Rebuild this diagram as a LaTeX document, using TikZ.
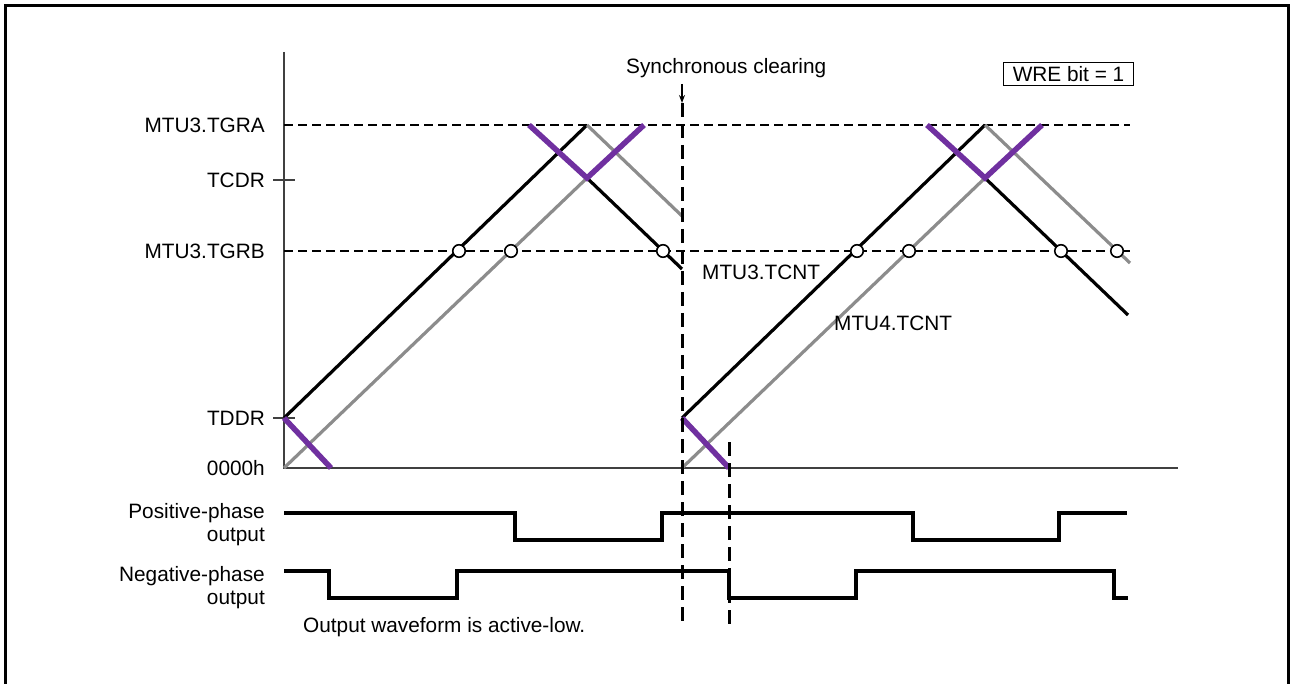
\documentclass[tikz,border=0pt]{standalone}
\usepackage{fontspec}
\setmainfont{Liberation Sans}
\usepackage{tikz}
\usetikzlibrary{arrows.meta,positioning,calc}
\definecolor{cntgray}{HTML}{8C8C8C}
\definecolor{deadband}{HTML}{7030A0}
\definecolor{axisgray}{HTML}{404040}
\tikzset{
  lbl/.style={font=\fontsize{20.8}{23}\selectfont, inner sep=0pt},
  axisline/.style={axisgray, line width=2pt},
  regline/.style={black, line width=2.8pt, dash pattern=on 9pt off 5pt},
  cntA/.style={black, line width=3.2pt},
  cntB/.style={cntgray, line width=3.2pt},
  dead/.style={deadband, line width=5.5pt},
  wave/.style={black, line width=3.2pt},
  syncline/.style={black, line width=3pt, dash pattern=on 14pt off 7pt},
  cmpmark/.style={circle, draw=black, fill=white, line width=1.6pt, minimum size=12.5pt, inner sep=0pt},
}

\begin{document}
\begin{tikzpicture}[x=1pt,y=-1pt]
        \useasboundingbox (0,0) rectangle (1290,684);
        \draw[line width=3.2pt] (5.5,700) -- (5.5,5.5) -- (1288.5,5.5) -- (1288.5,700);
        % axes and register levels
        \coordinate (orig) at (284,468);
        \coordinate (ytop) at (284,52);
        \coordinate (xend) at (1178,468);
        \draw[axisline] (ytop) -- (orig) -- (xend);
        \foreach \nm/\y/\txt in {tgra/125/MTU3.TGRA, tcdr/180/TCDR, tgrb/251/MTU3.TGRB, tddr/418/TDDR, zero/468/0000h}
          \node[lbl, anchor=east] (\nm) at (265,\y) {\txt};
        \draw[axisline] (273,180) -- (295,180);
        \draw[axisline] (273,418) -- (295,418);
        \draw[regline] (284,125) -- (1130,125);
        \draw[regline] (284,251) -- (1130,251);
        % counters, two cycles
        \foreach \s in {284,682} {
          \draw[cntA] (\s,418) -- (\s+303,125);
          \draw[cntB] (\s,468) -- (\s+303,178);
        }
        \draw[cntB] (587,125) -- (682,216);
        \draw[cntA] (587,178) -- (682,269);
        \draw[cntB] (985,125) -- (1130,263);
        \draw[cntA] (985,178) -- (1128,315);
        \foreach \s in {284,682} {
          \draw[dead] (\s+245,125) -- (\s+303,178) -- (\s+360,125);
          \draw[dead] (\s,418) -- (\s+47,468);
        }
        \foreach \x/\n in {459/1, 511/2, 663/3, 857/4, 909/5, 1061/6, 1117/7}
          \node[cmpmark] (cmp\n) at (\x,251) {};
        % synchronous clearing
        \node[lbl, anchor=west] (sync) at (626,68) {Synchronous clearing};
        \coordinate (clr) at (682,103);
        \coordinate (clrend) at (682,628);
        \draw[-{Stealth[length=8pt,width=6pt]}, line width=1.3pt] (682,84) -- (clr);
        \draw[syncline] (clr) -- (clrend);
        \coordinate (dtop) at (729,442);
        \coordinate (dend) at (729,628);
        \draw[syncline] (dtop) -- (dend);
        \node[lbl, anchor=west] (tcnt3) at (702,272) {MTU3.TCNT};
        \node[lbl, anchor=west] (tcnt4) at (834,323) {MTU4.TCNT};
        \node[lbl, draw, line width=1.4pt, inner xsep=9pt, inner ysep=4pt, anchor=east] (wre) at (1134,74) {WRE bit = 1};
        % outputs
        \node[lbl, align=right, anchor=east] (posout) at (265,525) {Positive-phase\\output};
        \node[lbl, align=right, anchor=east] (negout) at (265,588) {Negative-phase\\output};
        \draw[wave] (284,513) -| (515,540) -| (662,513) -| (913,540) -| (1059,513) -- (1127,513);
        \draw[wave] (284,571) -| (329,598) -| (457,571) -| (729,598) -| (856,571) -| (1114,598) -- (1128,598);
        \node[lbl, anchor=west] (note) at (303,627) {Output waveform is active-low.};
      \end{tikzpicture}
\end{document}
